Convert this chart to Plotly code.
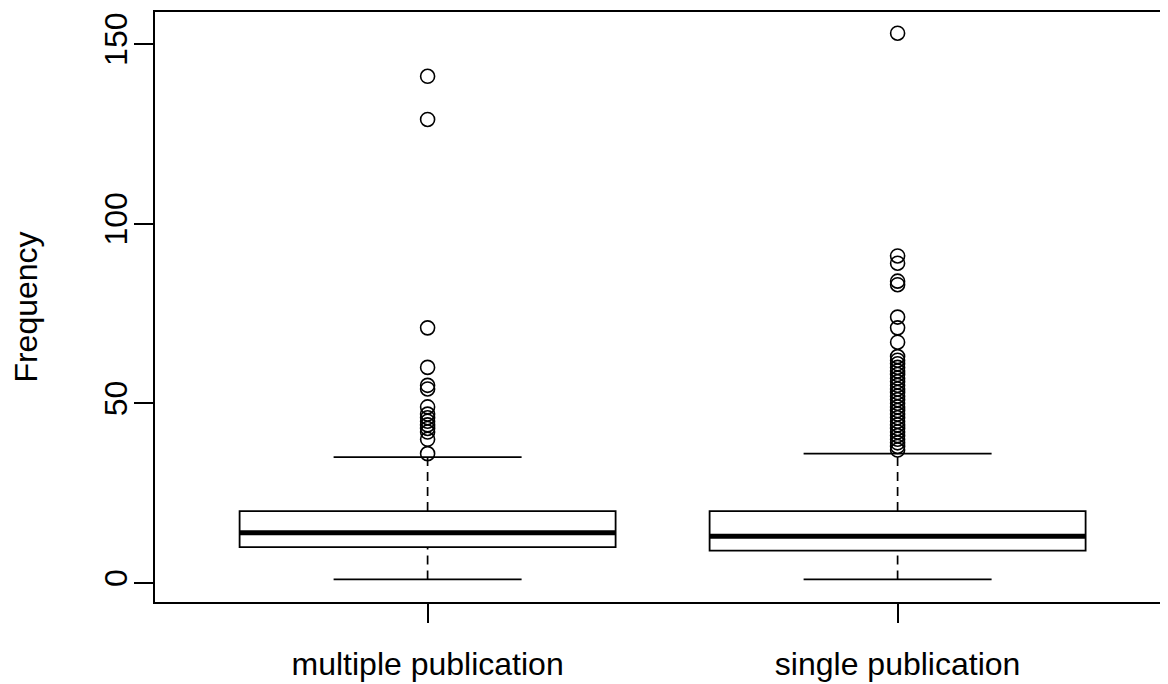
import plotly.graph_objects as go

categories = ["multiple publication", "single publication"]
positions = [1, 2]
q1_vals = [10, 9]
median_vals = [14, 13]
q3_vals = [20, 20]
lower_whisker = [1, 1]
upper_whisker = [35, 36]
outliers_multiple = [141, 129, 71, 60, 55, 54, 49, 47, 46, 45, 44, 43, 42, 40, 36]
outliers_single = [153, 91, 89, 84, 83, 74, 71, 67, 63, 62, 61, 60, 59, 58, 57, 56,
                   55, 54, 53, 52, 51, 50, 49, 48, 47, 46, 45, 44, 43, 42, 41, 40,
                   39, 38, 37]
outliers = [outliers_multiple, outliers_single]
y_ticks = [0, 50, 100, 150]

FONT = "Liberation Sans, Arial, Helvetica, sans-serif"
BOX_W = 0.8
CAP_HALF = 0.2

fig = go.Figure()

# whiskers (dashed) and caps
for i, pos in enumerate(positions):
    for lo, hi in ((lower_whisker[i], q1_vals[i]), (q3_vals[i], upper_whisker[i])):
        fig.add_trace(go.Scatter(x=[pos, pos], y=[lo, hi], mode="lines",
                                 line=dict(color="black", width=1.7, dash="9px,6px"),
                                 showlegend=False, hoverinfo="skip"))
    for v in (lower_whisker[i], upper_whisker[i]):
        fig.add_trace(go.Scatter(x=[pos - CAP_HALF, pos + CAP_HALF], y=[v, v], mode="lines",
                                 line=dict(color="black", width=1.7),
                                 showlegend=False, hoverinfo="skip"))

# boxes
fig.add_trace(go.Box(x=positions, q1=q1_vals, median=median_vals, q3=q3_vals,
                     lowerfence=q1_vals, upperfence=q3_vals, width=BOX_W,
                     fillcolor="white", line=dict(color="black", width=1.8),
                     boxpoints=False, showlegend=False))

# thick medians
for i, pos in enumerate(positions):
    fig.add_trace(go.Scatter(x=[pos - BOX_W / 2, pos + BOX_W / 2],
                             y=[median_vals[i], median_vals[i]], mode="lines",
                             line=dict(color="black", width=5),
                             showlegend=False, hoverinfo="skip"))

# outliers
for i, pos in enumerate(positions):
    fig.add_trace(go.Scatter(x=[pos] * len(outliers[i]), y=outliers[i], mode="markers",
                             marker=dict(symbol="circle-open", size=14,
                                         line=dict(color="black", width=1.6), color="black"),
                             showlegend=False))

# page body has an 8px margin: size the figure so it fills the 1168x684 window
fig.update_layout(
    width=1160, height=676,
    margin=dict(l=147, r=0, t=4, b=82, autoexpand=False),
    paper_bgcolor="white", plot_bgcolor="white",
    font=dict(family=FONT, size=32, color="black"),
    xaxis=dict(range=[0.42, 0.42 + 1013 / 470], tickvals=positions, ticktext=categories,
               showgrid=False, zeroline=False, showline=True, mirror=True,
               linecolor="black", linewidth=1.7, ticks="outside", ticklen=19,
               tickwidth=1.7, tickcolor="black", ticklabelstandoff=14,
               tickfont=dict(size=32), automargin=False),
    yaxis=dict(range=[-5.29, 158.9], tickvals=y_ticks, tickangle=-90,
               showgrid=False, zeroline=False, showline=True, mirror=False,
               linecolor="black", linewidth=1.7, ticks="outside", ticklen=19,
               tickwidth=1.7, tickcolor="black", ticklabelstandoff=-6,
               tickfont=dict(size=32), automargin=False,
               title=dict(text="Frequency", font=dict(size=32), standoff=53)),
)

fig.write_html("out.html")
